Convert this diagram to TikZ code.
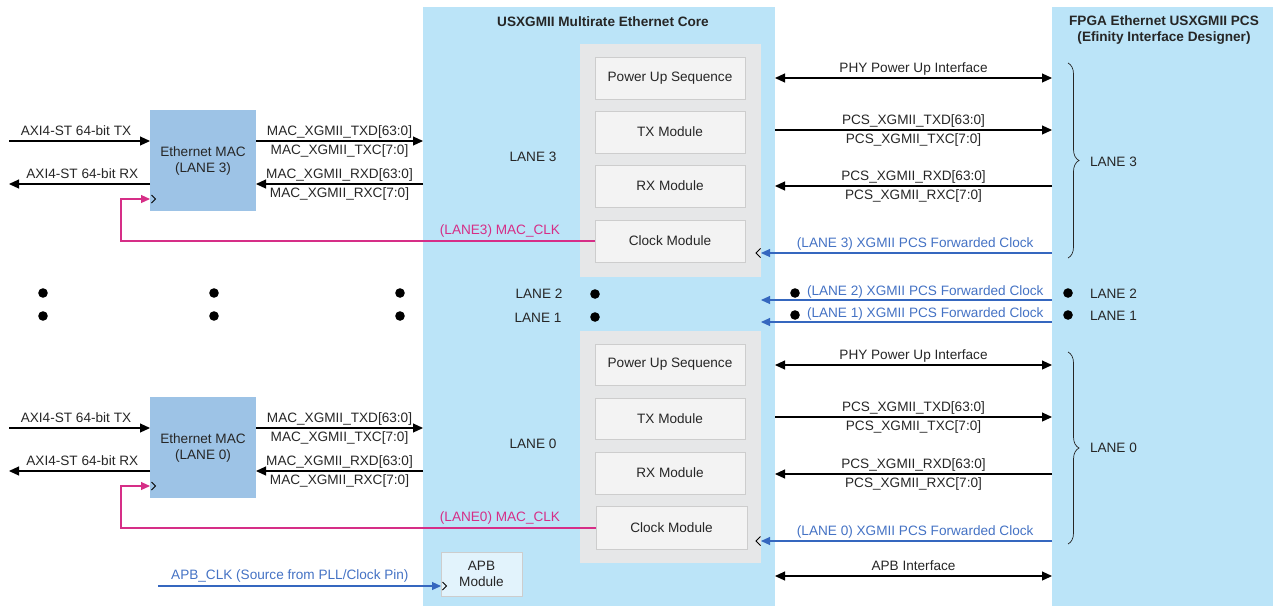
\documentclass[tikz,border=0pt]{standalone}
\usepackage{fontspec}
\setmainfont{Liberation Sans}
\usetikzlibrary{arrows.meta,decorations.pathreplacing,calc}
\definecolor{panelblue}{HTML}{BBE4F8}
\definecolor{graybox}{HTML}{E6E7E8}
\definecolor{modbox}{HTML}{F3F3F3}
\definecolor{modedge}{HTML}{CDCDCD}
\definecolor{macblue}{HTML}{9DC3E6}
\definecolor{apbfill}{HTML}{E2F3FC}
\definecolor{txt}{HTML}{262626}
\definecolor{clkblue}{HTML}{3567BF}
\definecolor{clkbluetext}{HTML}{4472C4}
\definecolor{clkpink}{HTML}{D62E87}
\begin{document}
\begin{tikzpicture}[x=1pt,y=-1pt,font=\fontsize{13.6}{16}\selectfont,text=txt,
  blk/.style={rectangle,anchor=north west,inner sep=0,outer sep=0},
  panel/.style={blk,fill=panelblue},
  grp/.style={blk,fill=graybox,minimum width=181pt},
  mod/.style={blk,fill=modbox,draw=modedge,line width=0.6pt,minimum width=150pt,minimum height=42pt},
  mac/.style={blk,fill=macblue,minimum width=106pt,minimum height=101pt,align=center},
  lbl/.style={inner sep=0,outer sep=0,text height=10pt,text depth=3pt},
  up/.style={lbl,midway,yshift=9.5pt},
  dn/.style={lbl,midway,yshift=-9.5pt},
  sig/.style={draw=black,line width=1.1pt},
  arrR/.style={-{Triangle[length=10pt,width=9pt]}},
  arrB/.style={{Triangle[length=10pt,width=9pt]}-{Triangle[length=10pt,width=9pt]}},
  bclk/.style={draw=clkblue,line width=1.1pt,-{Triangle[length=9pt,width=8pt]}},
  pclk/.style={draw=clkpink,line width=1.1pt,-{Triangle[length=9pt,width=8pt]}},
  btext/.style={lbl,text=clkbluetext},
  ptext/.style={lbl,text=clkpink},
  chev/.style={draw=black,line width=0.8pt},
  dot/.style={circle,fill=black,inner sep=0,minimum size=9.6pt},
  lanebrace/.style={draw=txt,line width=0.7pt,decorate,decoration={brace,amplitude=11pt}}]
\useasboundingbox (0,0) rectangle (1273,606);
% panels
\node[panel,minimum width=352pt,minimum height=599pt] (core) at (423,7) {};
\node[panel,minimum width=221pt,minimum height=599pt] (pcs) at (1052,7) {};
\node[lbl,font=\fontsize{13.6}{16}\selectfont\bfseries] (coreT) at (603,23) {USXGMII Multirate Ethernet Core};
\node[inner sep=0,align=center,font=\fontsize{13.6}{16}\selectfont\bfseries] (pcsT) at (1164,30.5) {FPGA Ethernet USXGMII PCS\\(Efinity Interface Designer)};
% gray groups and modules
\node[grp,minimum height=233pt] (grpA) at (580,44) {};
\node[grp,minimum height=232pt] (grpB) at (580,331) {};
\node[mod] (pusA) at (595,57) {Power Up Sequence};
\node[mod] (txA) at (595,111) {TX Module};
\node[mod] (rxA) at (595,165) {RX Module};
\node[mod] (ckA) at (595,220) {Clock Module};
\node[mod,minimum height=41pt] (pusB) at (595,344) {Power Up Sequence};
\node[mod,minimum height=41pt] (txB) at (595,398) {TX Module};
\node[mod] (rxB) at (595,452) {RX Module};
\node[mod,minimum width=151pt,minimum height=43pt] (ckB) at (596,506.5) {Clock Module};
\node[lbl] (laneA) at (533,158.4) {LANE 3};
\node[lbl] (laneB) at (533,445.4) {LANE 0};
% MAC blocks
\node[mac] (macA) at (150,110) {Ethernet MAC\\(LANE 3)};
\node[mac] (macB) at (150,397) {Ethernet MAC\\(LANE 0)};
% APB module
\node[blk,fill=apbfill,draw=modedge,line width=0.5pt,minimum width=81pt,minimum height=44pt,align=center] (apb) at (441,552) {APB\\Module};
% ---------- lane 3 ----------
\coordinate (txyA) at (9,141);
\coordinate (rxyA) at (9,184);
\draw[sig,arrR] (txyA) -- (macA.west |- txyA) node[up,pos=0.475]{AXI4-ST 64-bit TX};
\draw[sig,arrR] (macA.west |- rxyA) -- (rxyA) node[up,pos=0.48]{AXI4-ST 64-bit RX};
\draw[sig,arrR] (macA.east |- txyA) -- (core.west |- txyA) node[up]{MAC\_XGMII\_TXD[63:0]} node[dn]{MAC\_XGMII\_TXC[7:0]};
\draw[sig,arrR] (core.west |- rxyA) -- (macA.east |- rxyA) node[up]{MAC\_XGMII\_RXD[63:0]} node[dn]{MAC\_XGMII\_RXC[7:0]};
\coordinate (pkA) at (121,199);
\draw[pclk] (ckA.west) -| (pkA) -- (macA.west |- pkA);
\draw[chev] ($(macA.west |- pkA)+(1.5,-4)$) -- ++(4,4) -- ++(-4,4);
\node[ptext] (mclkA) at (500,231.4) {(LANE3) MAC\_CLK};
\coordinate (phyA) at (0,78);
\coordinate (ptxA) at (0,130);
\coordinate (prxA) at (0,186);
\coordinate (fwA) at (0,253);
\draw[sig,arrB] (core.east |- phyA) -- (pcs.west |- phyA) node[up]{PHY Power Up Interface};
\draw[sig,arrR] (core.east |- ptxA) -- (pcs.west |- ptxA) node[up]{PCS\_XGMII\_TXD[63:0]} node[dn]{PCS\_XGMII\_TXC[7:0]};
\draw[sig,arrR] (pcs.west |- prxA) -- (core.east |- prxA) node[up]{PCS\_XGMII\_RXD[63:0]} node[dn]{PCS\_XGMII\_RXC[7:0]};
\draw[bclk] (pcs.west |- fwA) -- (grpA.east |- fwA) node[btext,pos=0.47,yshift=9pt]{(LANE 3) XGMII PCS Forwarded Clock};
\draw[chev] ($(grpA.east |- fwA)+(-0.5,-4.5)$) -- ++(-4.5,4.5) -- ++(4.5,4.5);
\draw[lanebrace] (1068,63) -- (1068,258);
\node[lbl,anchor=west] (braceA) at (1090,163) {LANE 3};
% ---------- lanes 2 and 1 ----------
\node[dot] (dl2a) at (43,293) {};
\node[dot] (dl2b) at (214,293) {};
\node[dot] (dl2c) at (400,293) {};
\node[dot] (dl1a) at (43,316) {};
\node[dot] (dl1b) at (214,316) {};
\node[dot] (dl1c) at (400,316) {};
\node[lbl] (l2core) at (539,295.4) {LANE 2};
\node[lbl] (l1core) at (538,319.4) {LANE 1};
\node[dot] (dl2d) at (595,294) {};
\node[dot] (dl1d) at (595,317) {};
\coordinate (fw2) at (0,300);
\coordinate (fw1) at (0,322);
\draw[bclk] (pcs.west |- fw2) -- (grpA.east |- fw2);
\draw[bclk] (pcs.west |- fw1) -- (grpA.east |- fw1);
\node[dot] (dl2e) at (795,293) {};
\node[dot] (dl1e) at (795,315) {};
\node[btext,anchor=west] (fw2t) at (807,292) {(LANE 2) XGMII PCS Forwarded Clock};
\node[btext,anchor=west] (fw1t) at (807,314) {(LANE 1) XGMII PCS Forwarded Clock};
\node[dot] (dl2f) at (1068,293) {};
\node[dot] (dl1f) at (1068,315) {};
\node[lbl,anchor=west] (l2pcs) at (1090,294.5) {LANE 2};
\node[lbl,anchor=west] (l1pcs) at (1090,316.5) {LANE 1};
% ---------- lane 0 ----------
\coordinate (txyB) at (9,428);
\coordinate (rxyB) at (9,471);
\draw[sig,arrR] (txyB) -- (macB.west |- txyB) node[up,pos=0.475]{AXI4-ST 64-bit TX};
\draw[sig,arrR] (macB.west |- rxyB) -- (rxyB) node[up,pos=0.48]{AXI4-ST 64-bit RX};
\draw[sig,arrR] (macB.east |- txyB) -- (core.west |- txyB) node[up]{MAC\_XGMII\_TXD[63:0]} node[dn]{MAC\_XGMII\_TXC[7:0]};
\draw[sig,arrR] (core.west |- rxyB) -- (macB.east |- rxyB) node[up]{MAC\_XGMII\_RXD[63:0]} node[dn]{MAC\_XGMII\_RXC[7:0]};
\coordinate (pkB) at (121,486);
\draw[pclk] (ckB.west) -| (pkB) -- (macB.west |- pkB);
\draw[chev] ($(macB.west |- pkB)+(1.5,-4)$) -- ++(4,4) -- ++(-4,4);
\node[ptext] (mclkB) at (500,518.4) {(LANE0) MAC\_CLK};
\coordinate (phyB) at (0,365);
\coordinate (ptxB) at (0,417);
\coordinate (prxB) at (0,474);
\coordinate (fwB) at (0,541);
\coordinate (apbI) at (0,576);
\draw[sig,arrB] (core.east |- phyB) -- (pcs.west |- phyB) node[up]{PHY Power Up Interface};
\draw[sig,arrR] (core.east |- ptxB) -- (pcs.west |- ptxB) node[up]{PCS\_XGMII\_TXD[63:0]} node[dn]{PCS\_XGMII\_TXC[7:0]};
\draw[sig,arrR] (pcs.west |- prxB) -- (core.east |- prxB) node[up]{PCS\_XGMII\_RXD[63:0]} node[dn]{PCS\_XGMII\_RXC[7:0]};
\draw[bclk] (pcs.west |- fwB) -- (grpB.east |- fwB) node[btext,pos=0.47,yshift=9pt]{(LANE 0) XGMII PCS Forwarded Clock};
\draw[chev] ($(grpB.east |- fwB)+(-0.5,-4.5)$) -- ++(-4.5,4.5) -- ++(4.5,4.5);
\draw[lanebrace] (1068,352) -- (1068,544);
\node[lbl,anchor=west] (braceB) at (1090,449.4) {LANE 0};
% ---------- APB ----------
\draw[sig,arrB] (core.east |- apbI) -- (pcs.west |- apbI) node[up]{APB Interface};
\coordinate (apbsrc) at (158,586);
\draw[bclk] (apbsrc) -- (apb.west |- apbsrc) node[btext,pos=0.466,yshift=10pt]{APB\_CLK (Source from PLL/Clock Pin)};
\draw[chev] ($(apb.west |- apbsrc)+(1.5,-4)$) -- ++(4,4) -- ++(-4,4);
\end{tikzpicture}
\end{document}
